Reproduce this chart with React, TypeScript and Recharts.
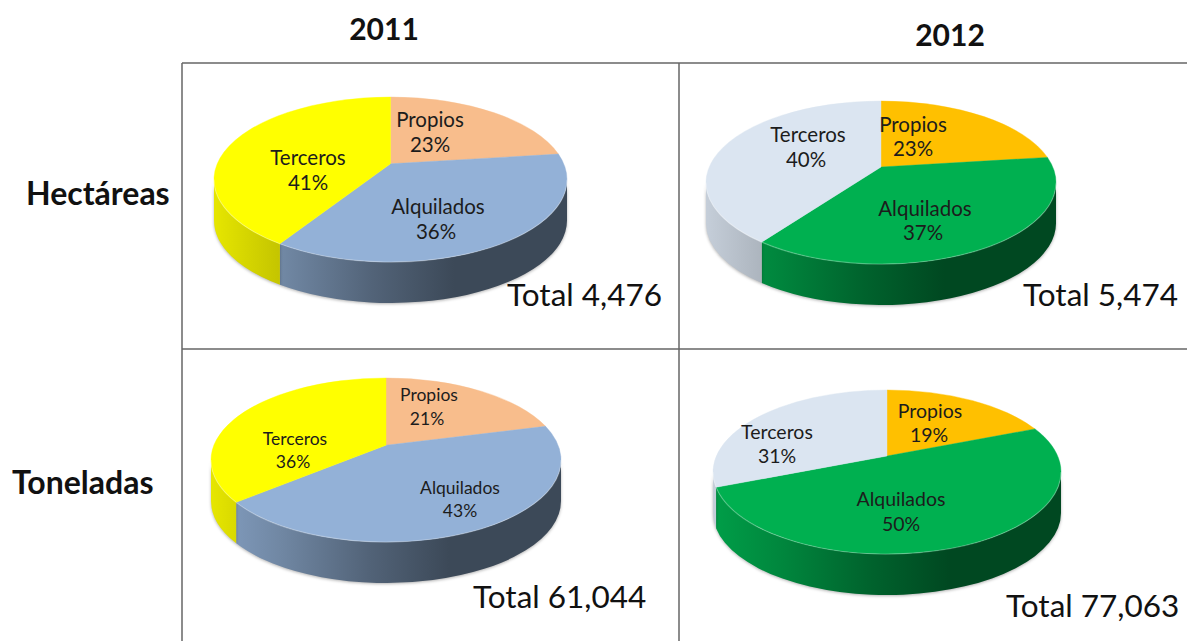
import React from "react";
import { Pie, PieChart } from "recharts";

const categories = ["Propios", "Alquilados", "Terceros"];
const hectareas2011 = [23, 36, 41];
const hectareas2012 = [23, 37, 40];
const toneladas2011 = [21, 43, 36];
const toneladas2012 = [19, 50, 31];
const totals = [4476, 5474, 61044, 77063];
const years = ["2011", "2012"];
const rowNames = ["Hectáreas", "Toneladas"];

const colors2011 = ["#f8bd8c", "#93b1d7", "#ffff00"];
const colors2012 = ["#ffc000", "#00b050", "#dbe5f1"];

const FONT = "Lato, 'Open Sans', sans-serif";
const DEPTH = 41;

// cx/cy = ellipse centre, e = how far the slice vertex sits above it (perspective)
const pies = [
  {
    id: "h11", values: hectareas2011, colors: colors2011, total: totals[0],
    cx: 390.5, cy: 179.5, rx: 176.5, ry: 82.5, e: 0.19, fontSize: 20.5,
    labels: [[430, 119, 430, 144], [438, 206, 436, 231], [308, 157, 308, 182]],
    totalPos: [507, 294], totalSize: 31.5,
  },
  {
    id: "h12", values: hectareas2012, colors: colors2012, total: totals[1],
    cx: 881, cy: 182.5, rx: 175, ry: 81.5, e: 0.19, fontSize: 20.5,
    labels: [[913, 124, 913, 148], [925, 208, 923, 232], [808, 134, 806, 159]],
    totalPos: [1023, 294], totalSize: 31.5,
  },
  {
    id: "t11", values: toneladas2011, colors: colors2011, total: totals[2],
    cx: 386, cy: 460, rx: 175, ry: 82, e: 0.18, fontSize: 17.5,
    labels: [[429, 394, 427, 418], [460, 487, 460, 510], [295, 438, 293, 461]],
    totalPos: [473, 596], totalSize: 31.5,
  },
  {
    id: "t12", values: toneladas2012, colors: colors2012, total: totals[3],
    cx: 887, cy: 472, rx: 174, ry: 82, e: 0.195, fontSize: 19.5,
    labels: [[930, 410, 929, 434], [901, 498, 901, 523], [777, 431, 777, 455]],
    totalPos: [1006, 605], totalSize: 31.5,
  },
];

const shade = (hex: string, k: number) => {
  const n = parseInt(hex.slice(1), 16);
  const c = [(n >> 16) & 255, (n >> 8) & 255, n & 255].map((v) => Math.round(v * k));
  return `rgb(${c[0]},${c[1]},${c[2]})`;
};

// rim angle on the ellipse (deg clockwise from top) for a slice angle, with the
// centre pulled towards the back so the slices look like the tilted original
const rimAngle = (deg: number, e: number) => {
  if (deg >= 359.99) return 360;
  if (deg <= 0.01) return 0;
  const a = (deg * Math.PI) / 180;
  const d = 1 + e * Math.cos(a);
  const x = (Math.sin(a) * Math.sqrt(1 - e * e)) / d;
  const y = (Math.cos(a) + e) / d;
  const phi = (Math.atan2(x, y) * 180) / Math.PI;
  return phi < 0 ? phi + 360 : phi;
};

const rimPoint = (p: any, phi: number) => {
  const r = (phi * Math.PI) / 180;
  return [p.cx + p.rx * Math.sin(r), p.cy - p.ry * Math.cos(r)];
};

const sliceRange = (props: any, e: number) => [
  rimAngle(90 - props.startAngle, e),
  rimAngle(90 - props.endAngle, e),
];

const TopShape = (pie: any) => (props: any) => {
  const [p0, p1] = sliceRange(props, pie.e);
  const a = rimPoint(pie, p0);
  const b = rimPoint(pie, p1);
  const large = p1 - p0 > 180 ? 1 : 0;
  const vy = pie.cy - pie.e * pie.ry;
  const arc = (from: number[], to: number[], l: number) =>
    `M${from[0]},${from[1]} A${pie.rx},${pie.ry} 0 ${l} 1 ${to[0]},${to[1]}`;
  const f0 = Math.max(p0, 90);
  const f1 = Math.min(p1, 270);
  return (
    <g>
      <path
        d={`M${pie.cx},${vy} L${a[0]},${a[1]} A${pie.rx},${pie.ry} 0 ${large} 1 ${b[0]},${b[1]} Z`}
        fill={props.fill}
        stroke={props.fill}
        strokeWidth={0.4}
      />
      {f1 > f0 && (
        <path
          d={arc(rimPoint(pie, f0), rimPoint(pie, f1), 0)}
          fill="none"
          stroke="#ffffff"
          strokeOpacity={0.25}
          strokeWidth={1.2}
        />
      )}
    </g>
  );
};

const WallShape = (pie: any) => (props: any) => {
  const [p0, p1] = sliceRange(props, pie.e);
  const f0 = Math.max(p0, 90);
  const f1 = Math.min(p1, 270);
  if (f1 <= f0) return <g />;
  const a = rimPoint(pie, f0);
  const b = rimPoint(pie, f1);
  const d =
    `M${a[0]},${a[1]} A${pie.rx},${pie.ry} 0 0 1 ${b[0]},${b[1]} ` +
    `L${b[0]},${b[1] + DEPTH} A${pie.rx},${pie.ry} 0 0 0 ${a[0]},${a[1] + DEPTH} Z`;
  return (
    <path
      d={d}
      fill={`url(#wall-${pie.id}-${props.index})`}
      style={{ filter: "drop-shadow(0 1px 1.5px rgba(0,0,0,0.3))" }}
    />
  );
};

const sliceLabel = (pie: any) => (props: any) => {
  const pos = pie.labels[props.index];
  const common = {
    textAnchor: "middle" as const,
    dominantBaseline: "central" as const,
    fontFamily: FONT,
    fontSize: pie.fontSize,
    fill: "#1c1c1c",
  };
  return (
    <g>
      <text x={pos[0]} y={pos[1]} {...common}>{categories[props.index]}</text>
      <text x={pos[2]} y={pos[3]} {...common}>{`${props.value}%`}</text>
    </g>
  );
};

const rows = (pie: any) =>
  categories.map((name, i) => ({ name, value: pie.values[i], fill: pie.colors[i] }));

export default function App() {
  return (
    <div style={{ position: "absolute", left: 0, top: 0, width: 1187, height: 641, overflow: "hidden", background: "#fff" }}>
      <PieChart width={1187} height={641} margin={{ top: 0, right: 0, bottom: 0, left: 0 }}>
        <defs>
          {pies.map((pie) =>
            pie.colors.map((c, i) => (
              <linearGradient
                key={`${pie.id}-${i}`}
                id={`wall-${pie.id}-${i}`}
                gradientUnits="userSpaceOnUse"
                x1={pie.cx - pie.rx}
                x2={pie.cx + pie.rx}
                y1={0}
                y2={0}
              >
                <stop offset="0%" stopColor={shade(c, 0.9)} />
                <stop offset="20%" stopColor={shade(c, 0.76)} />
                <stop offset="45%" stopColor={shade(c, 0.56)} />
                <stop offset="68%" stopColor={shade(c, 0.41)} />
                <stop offset="100%" stopColor={shade(c, 0.41)} />
              </linearGradient>
            ))
          )}
        </defs>

        <g stroke="#666666" strokeWidth={1.5}>
          <line x1={182} y1={63} x2={1187} y2={63} />
          <line x1={182} y1={349} x2={1187} y2={349} />
          <line x1={182} y1={63} x2={182} y2={641} />
          <line x1={679} y1={63} x2={679} y2={641} />
        </g>

        {pies.map((pie) => (
          <Pie
            key={`${pie.id}-wall`}
            data={rows(pie)}
            dataKey="value"
            nameKey="name"
            cx={pie.cx}
            cy={pie.cy}
            innerRadius={0}
            outerRadius={pie.rx}
            startAngle={90}
            endAngle={-270}
            paddingAngle={0}
            stroke="none"
            shape={WallShape(pie)}
            isAnimationActive={false}
          />
        ))}
        {pies.map((pie) => (
          <Pie
            key={`${pie.id}-top`}
            data={rows(pie)}
            dataKey="value"
            nameKey="name"
            cx={pie.cx}
            cy={pie.cy}
            innerRadius={0}
            outerRadius={pie.rx}
            startAngle={90}
            endAngle={-270}
            paddingAngle={0}
            stroke="none"
            shape={TopShape(pie)}
            label={sliceLabel(pie)}
            labelLine={false}
            isAnimationActive={false}
          />
        ))}

        <g fontFamily={FONT} fill="#111111">
          <text x={384} y={28} textAnchor="middle" dominantBaseline="central" fontSize={30} fontWeight={700}>{years[0]}</text>
          <text x={950} y={34} textAnchor="middle" dominantBaseline="central" fontSize={30} fontWeight={700}>{years[1]}</text>
          <text x={26} y={192} dominantBaseline="central" fontSize={32} fontWeight={700}>{rowNames[0]}</text>
          <text x={12} y={481} dominantBaseline="central" fontSize={32} fontWeight={700}>{rowNames[1]}</text>
          {pies.map((pie) => (
            <text key={pie.id} x={pie.totalPos[0]} y={pie.totalPos[1]} dominantBaseline="central" fontSize={pie.totalSize}>
              {`Total ${pie.total.toLocaleString("en-US")}`}
            </text>
          ))}
        </g>
      </PieChart>
    </div>
  );
}
